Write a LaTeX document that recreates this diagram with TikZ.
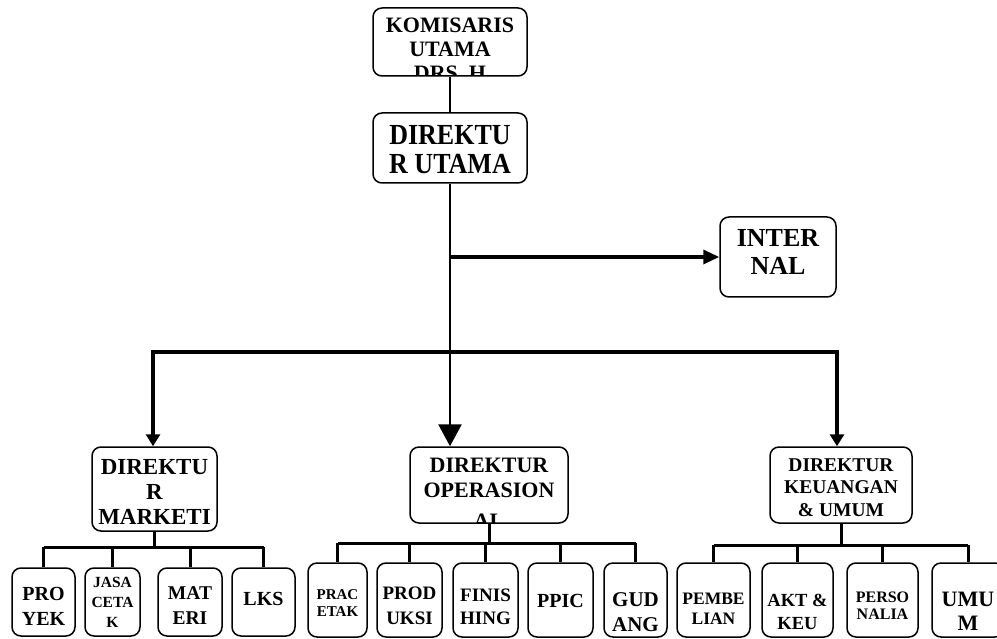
\documentclass[tikz,border=0pt]{standalone}
\usepackage{fontspec}
\usepackage{graphicx}
\setmainfont{Liberation Serif}
\usetikzlibrary{arrows.meta}

\newcommand\boxfont[2]{\fontsize{#1}{#2}\selectfont\bfseries}

\begin{document}
\begin{tikzpicture}[x=1pt,y=-1pt,
        org/.style={draw,rounded corners=9pt,line width=1.5pt,inner sep=0pt},
        say/.style n args={3}{path picture={\node[align=center,font={#2}] at ([yshift=#1]path picture bounding box.center) {#3};}},
        link/.style={line width=3pt,line cap=square},
        >={Triangle[length=12pt,width=14pt]}
    ]
        \useasboundingbox (0,0) rectangle (997,639);

        \node[org,minimum width=154pt,minimum height=68pt,say={-7.5pt}{\boxfont{22}{24}}{KOMISARIS\\UTAMA\\DRS. H}] (kom) at (450,42) {};
        \node[org,minimum width=154pt,minimum height=70pt,say={-2pt}{\boxfont{26}{29}}{\scalebox{1}[1.12]{DIREKTU}\\\scalebox{1}[1.12]{R UTAMA}}] (dirut) at (450,148) {};
        \node[org,minimum width=116pt,minimum height=80pt,say={5pt}{\boxfont{26}{28}}{INTER\\NAL}] (internal) at (778,257) {};
        \node[org,minimum width=125pt,minimum height=84pt,say={-3pt}{\boxfont{23}{25}}{DIREKTU\\R\\MARKETI}] (dm) at (154.5,489) {};
        \node[org,minimum width=158pt,minimum height=76pt,say={-8.5pt}{\boxfont{22}{25}}{DIREKTUR\\OPERASION\\[6pt]AL}] (dop) at (489,485) {};
        \node[org,minimum width=142pt,minimum height=76pt,say={-2.5pt}{\boxfont{19.5}{22.5}}{DIREKTUR\\KEUANGAN\\\& UMUM}] (dk) at (841,485) {};

        \node[org,minimum width=63pt,minimum height=68pt,say={-4pt}{\boxfont{20}{25}}{PRO\\YEK}] (pro) at (43.5,602) {};
        \node[org,minimum width=55pt,minimum height=68pt,say={0pt}{\boxfont{15.5}{20}}{JASA\\CETA\\K}] (jasa) at (112.5,602) {};
        \node[org,minimum width=64pt,minimum height=68pt,say={-4pt}{\boxfont{19.5}{25}}{MAT\\ERI}] (mat) at (190,602) {};
        \node[org,minimum width=63pt,minimum height=68pt,say={3pt}{\boxfont{20}{25}}{LKS}] (lks) at (263.5,602) {};

        \node[org,minimum width=59pt,minimum height=74pt,say={-3pt}{\boxfont{15}{17}}{PRAC\\ETAK}] (prac) at (337.5,600) {};
        \node[org,minimum width=65pt,minimum height=74pt,say={-6pt}{\boxfont{19}{25}}{PROD\\UKSI}] (prod) at (409.5,600) {};
        \node[org,minimum width=65pt,minimum height=74pt,say={-7pt}{\boxfont{19}{23}}{FINIS\\HING}] (fin) at (485.5,600) {};
        \node[org,minimum width=65pt,minimum height=74pt,say={-1pt}{\boxfont{20}{25}}{PPIC}] (ppic) at (560.5,600) {};
        \node[org,minimum width=63pt,minimum height=74pt,say={-12pt}{\boxfont{21}{25}}{GUD\\ANG}] (gud) at (635.5,600) {};

        \node[org,minimum width=73pt,minimum height=74pt,say={-9pt}{\boxfont{17.5}{20}}{PEMBE\\LIAN}] (pembe) at (713.5,600) {};
        \node[org,minimum width=71pt,minimum height=74pt,say={-12pt}{\boxfont{18.5}{23}}{AKT \&\\KEU}] (akt) at (797.5,600) {};
        \node[org,minimum width=71pt,minimum height=74pt,say={-6pt}{\boxfont{16}{17}}{PERSO\\NALIA}] (perso) at (882.5,600) {};
        \node[org,minimum width=72pt,minimum height=74pt,say={-11pt}{\boxfont{22}{24}}{UMU\\M}] (umum) at (968,600) {};

        \draw[line width=2.7pt] (kom) -- (dirut);
        \draw[line width=2.7pt,-{Triangle[length=22pt,width=23pt]}] (dirut) -- (dirut.south |- dop.north);
        \draw[line width=3.3pt,-{Triangle[length=16pt,width=14pt]}] (dirut.south |- internal.west) -- (internal);

        \coordinate (wingL) at (153,352);
        \coordinate (wingR) at (837,352);
        \draw[line width=3.5pt,<->] (wingL |- dm.north) -- (wingL) -- (wingR) -- (wingR |- dk.north);

        \coordinate (mj) at (154.5,547);
        \coordinate (oj) at (489,543);
        \coordinate (kj) at (841,545);
        \draw[link] (dm) -- (mj);
        \draw[link] (mj -| pro) -- (mj -| lks);
        \foreach \k in {pro,jasa,mat,lks} \draw[link] (mj -| \k) -- (\k);
        \draw[link] (dop) -- (oj);
        \draw[link] (oj -| prac) -- (oj -| gud);
        \foreach \k in {prac,prod,fin,ppic,gud} \draw[link] (oj -| \k) -- (\k);
        \draw[link] (dk) -- (kj);
        \draw[link] (kj -| pembe) -- (kj -| umum);
        \foreach \k in {pembe,akt,perso,umum} \draw[link] (kj -| \k) -- (\k);
\end{tikzpicture}
\end{document}
